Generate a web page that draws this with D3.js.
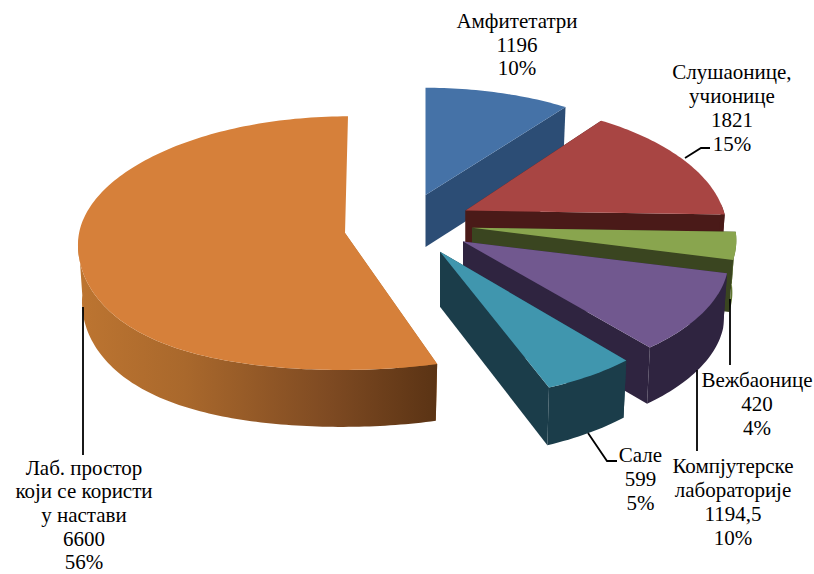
<!DOCTYPE html>
<html><head><meta charset="utf-8">
<script src="https://cdn.jsdelivr.net/npm/d3@7/dist/d3.min.js"></script>
<style>html,body{margin:0;padding:0;background:#fff}svg{display:block}text{font-family:"Liberation Serif",serif;font-size:21px;fill:#000;text-anchor:middle}</style>
</head><body><svg id="c" width="814" height="574"></svg>
<script>
// data
const categories = ["Амфитетатри","Слушаонице, учионице","Вежбаонице","Компјутерске лабораторије","Сале","Лаб. простор који се користи у настави"];
const values = [1196,1821,420,1194.5,599,6600];
const labelLines = [["Амфитетатри"],["Слушаонице,","учионице"],["Вежбаонице"],["Компјутерске","лабораторије"],["Сале"],["Лаб. простор","који се користи","у настави"]];
// style
const topColors = ["#4572a7","#a84543","#89a54e","#71588f","#4096ae","#d6803a"];
const faceColors = ["#2c4d75","#4a1a18","#3a4520","#2f2440","#1b3d4a","#b5702e"];
const outerColors = ["#2c4d75","#4a1a18","#5f7530","#2f2440","#1b3d4a","url(#og)"];
// layout: projection of each exploded wedge
const wedgeLayout = [
 {ax:425.5,ay:195,rx:255,ry:118,px:.1,py:.1,s:0,b:0,q:0,d:52},
 {ax:465.5,ay:210.5,rx:258,ry:126,px:.16,py:.16,s:0,b:0,q:0,d:52},
 {ax:472,ay:227.7,rx:263,ry:125,px:.1,py:.1,s:0,b:0,q:0,d:52},
 {ax:463,ay:241.5,rx:262.7,ry:121,px:.147,py:.147,s:0,b:0,q:0,d:55},
 {ax:440,ay:251.7,rx:252,ry:119.5,px:.19,py:.19,s:0,b:0,q:0,d:55},
 {ax:345,ay:233,rx:267,ry:126,px:0,py:.08,s:-3,b:10,q:20,d:57}
];
const labelLayout = [
 {x:517,y:28,step:23.6},{x:732,y:79,step:23.9},{x:757,y:387,step:23.9},{x:733,y:473,step:23.9},{x:640.5,y:461.5,step:24},{x:84,y:474.5,step:23.7}
];
const leaderPaths = [
 null,
 [[685,158],[701,148],[710,148]],
 [[730,299],[730,365]],
 [[697,370],[697,451]],
 [[588,433],[607,461],[617,461]],
 [[83,307],[83,455]]
];

const svg = d3.select("#c");
const defs = svg.append("defs");
const og = defs.append("linearGradient").attr("id","og").attr("gradientUnits","userSpaceOnUse")
  .attr("x1",77).attr("x2",438).attr("y1",0).attr("y2",0);
og.append("stop").attr("offset",0).attr("stop-color","#bd7531");
og.append("stop").attr("offset",.3).attr("stop-color","#a9682c");
og.append("stop").attr("offset",.7).attr("stop-color","#7e4a22");
og.append("stop").attr("offset",1).attr("stop-color","#5a3314");

const arcs = d3.pie().sort(null).value(d=>d)(values);
const line = d3.line();
function project(g,t,bottom){
  const c=-Math.cos(t), sn=Math.sin(t);
  const kx=1/(1-g.px*c), ky=1/(1-g.py*c);
  let x=(g.rx*sn+g.s*c)*kx, y=g.ry*c*ky+sn*sn*(g.b+g.q*Math.max(c,0));
  if(bottom){ x*=.985; y*=.985; y+=g.d*(1+(ky-1)*.4); }
  return [g.ax+x,g.ay+y];
}
const apex=(g,bottom)=>bottom?[g.ax,g.ay+g.d]:[g.ax,g.ay];
function arcAngles(a0,a1){
  const n=Math.max(2,Math.ceil((a1-a0)/0.02));
  return d3.range(n+1).map(i=>a0+(a1-a0)*i/n);
}
arcs.forEach((a,i)=>{
  const g=wedgeLayout[i], a0=a.startAngle, a1=a.endAngle;
  const G=svg.append("g").attr("class","slice");
  const cut=t=>[apex(g,false),project(g,t,false),project(g,t,true),apex(g,true)];
  G.append("path").attr("d",line(cut(a0))+"Z").attr("fill",faceColors[i]);
  if(i!==5) G.append("path").attr("d",line(cut(a1))+"Z").attr("fill",faceColors[i]);
  const angles=arcAngles(a0,a1);
  const front=angles.filter(t=>-Math.cos(t)>-0.05);
  if(front.length>1){
    const f=front.map(t=>project(g,t,false)), b=front.map(t=>project(g,t,true)).reverse();
    G.append("path").attr("d",line(f.concat(b))+"Z").attr("fill",outerColors[i]);
  }
  G.append("path").attr("d",line([apex(g,false)].concat(angles.map(t=>project(g,t,false))))+"Z").attr("fill",topColors[i]);
});
leaderPaths.forEach(p=>{ if(p) svg.append("path").attr("d",line(p)).attr("fill","none").attr("stroke","#000").attr("stroke-width",1.8); });
const total=d3.sum(values), pct=d3.format(".0%");
labelLines.forEach((ls,i)=>{
  const lines=ls.concat([String(values[i]).replace(".",","),pct(values[i]/total)]);
  const L=labelLayout[i];
  const T=svg.append("text").attr("x",L.x).attr("y",L.y);
  lines.forEach((s,j)=>T.append("tspan").attr("x",L.x).attr("y",L.y+j*L.step).text(s));
});
</script></body></html>
